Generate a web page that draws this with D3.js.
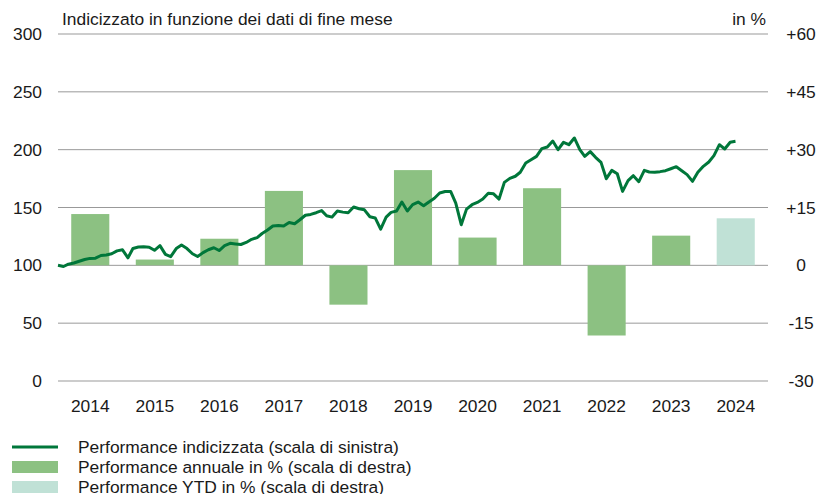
<!DOCTYPE html>
<html>
<head>
<meta charset="utf-8">
<script src="https://cdn.jsdelivr.net/npm/d3@7"></script>
<style>
  body { margin: 0; background: #fff; }
  svg text { font-family: 'Liberation Sans', Arial, sans-serif; fill: #1a1a1a; }
</style>
</head>
<body>
<div id="chart"></div>
<script>
'use strict';
// Chart data
const years = ['2014', '2015', '2016', '2017', '2018', '2019', '2020', '2021', '2022', '2023', '2024']
const annualPerf = [13.3, 1.5, 6.9, 19.3, -10.2, 24.7, 7.2, 20.0, -18.2, 7.7, 12.2]
const ytdYear = '2024'
const leftTicks = [0, 50, 100, 150, 200, 250, 300]
const rightTicks = [-30, -15, 0, 15, 30, 45, 60]
// month-end index values, Dec 2013 .. Jun 2024
const indexValues = [
  100, 99, 101, 102, 103.5, 105, 106, 106.2, 108.5, 109, 110, 112.5,
  113.4, 106.5, 114.5, 115.8, 116, 115.7, 113, 117, 109.5, 107.5, 114.5, 117.5,
  114.5, 110, 107.6, 111, 113.5, 115.2, 112.8, 117, 119, 118.5, 118, 119.8,
  122.5, 124, 127.5, 130.5, 134, 134.5, 134, 137.1, 136, 139.4, 143.3, 144,
  145.5, 147.3, 142.9, 141.7, 146.9, 146, 145.5, 150.4, 148.9, 148, 142, 141,
  131.3, 141.7, 145.8, 146.9, 154.7, 147, 152.5, 154.7, 151.5, 154.8, 158, 162.5,
  163.8, 163.9, 153.8, 135.1, 148.6, 152.4, 154.4, 157.3, 162.3, 161.8, 157.3, 171.7,
  175.2, 177, 180.5, 188.5, 191.3, 194.2, 200.9, 202.3, 207.5, 200, 206.4, 204.3,
  210.1, 200, 194.2, 198.3, 193.4, 189, 174.9, 182.1, 179.2, 163.9, 173.2, 177.5,
  172.3, 182.1, 180.7, 180.4, 181, 181.8, 183.5, 185.3, 181.8, 178.4, 172.6, 180.4,
  185.6, 189.3, 194.8, 204.3, 200.6, 206.4, 207.2
]
const legendItems = [
  { label: 'Performance indicizzata (scala di sinistra)', type: 'line' },
  { label: 'Performance annuale in % (scala di destra)', type: 'bar' },
  { label: 'Performance YTD in % (scala di destra)', type: 'ytd' }
]

const W = 819, H = 494
const margin = { top: 34, bottom: 113, left: 58, right: 51 }
const green = '#00773a'
const barGreen = '#8cc182'
const ytdGreen = '#c0e1d6'
const axisFont = '17.4px'

const svg = d3.select('#chart').append('svg')
  .attr('width', W)
  .attr('height', H)

const x = d3.scaleBand().domain(years)
  .range([margin.left, W - margin.right])
  .paddingInner(0.41).paddingOuter(0.205)
const xTime = d3.scaleTime()
  .domain([new Date(2014, 0, 1), new Date(2025, 0, 1)])
  .range([margin.left, W - margin.right])
const yL = d3.scaleLinear().domain([0, 300]).range([H - margin.bottom, margin.top])
const yR = d3.scaleLinear().domain([-30, 60]).range([H - margin.bottom, margin.top])

// Gridlines
svg.append('g').selectAll('line').data(leftTicks).join('line')
  .attr('x1', margin.left).attr('x2', W - margin.right)
  .attr('y1', d => yL(d)).attr('y2', d => yL(d))
  .attr('stroke', '#999').attr('stroke-width', 1)

// Left axis labels
svg.append('g').selectAll('text').data(leftTicks).join('text')
  .attr('x', 42).attr('y', d => yL(d))
  .attr('dy', '0.35em')
  .attr('text-anchor', 'end')
  .style('font-size', axisFont)
  .text(d => d)

// Right axis labels
svg.append('g').selectAll('text').data(rightTicks).join('text')
  .attr('x', 801).attr('y', d => yR(d))
  .attr('dy', '0.35em')
  .attr('text-anchor', 'middle')
  .style('font-size', axisFont)
  .text(d => d > 0 ? `+${d}` : d)

// Year labels
svg.append('g').selectAll('text').data(years).join('text')
  .attr('x', d => x(d) + x.bandwidth() / 2)
  .attr('y', 412)
  .attr('text-anchor', 'middle')
  .style('font-size', axisFont)
  .text(d => d)

// Titles
svg.append('text')
  .attr('x', 62).attr('y', 25)
  .style('font-size', axisFont)
  .text('Indicizzato in funzione dei dati di fine mese')
svg.append('text')
  .attr('x', 766).attr('y', 25)
  .attr('text-anchor', 'end')
  .style('font-size', axisFont)
  .text('in %')

// Annual bars
svg.append('g').selectAll('rect').data(years).join('rect')
  .attr('x', d => x(d))
  .attr('width', x.bandwidth())
  .attr('y', (d, i) => yR(Math.max(0, annualPerf[i])))
  .attr('height', (d, i) => Math.abs(yR(annualPerf[i]) - yR(0)))
  .attr('fill', d => d === ytdYear ? ytdGreen : barGreen)

// Index line
const line = d3.line()
  .x((d, i) => xTime(d3.timeMonth.offset(new Date(2014, 0, 1), i)))
  .y(d => yL(d))
svg.append('path').datum(indexValues)
  .attr('d', line)
  .attr('fill', 'none')
  .attr('stroke', green)
  .attr('stroke-width', 3)
  .attr('stroke-linejoin', 'round')

// Legend
const legend = svg.append('g')
legendItems.forEach((item, i) => {
  const cy = 447 + i * 20
  if (item.type === 'line') {
    legend.append('line')
      .attr('x1', 12).attr('x2', 58)
      .attr('y1', cy).attr('y2', cy)
      .attr('stroke', green).attr('stroke-width', 3)
  } else {
    legend.append('rect')
      .attr('x', 12).attr('y', cy - 6)
      .attr('width', 46).attr('height', 12)
      .attr('fill', item.type === 'ytd' ? ytdGreen : barGreen)
  }
  legend.append('text')
    .attr('x', 78).attr('y', cy)
    .attr('dy', '0.35em')
    .style('font-size', axisFont)
    .text(item.label)
})
</script>
</body>
</html>
